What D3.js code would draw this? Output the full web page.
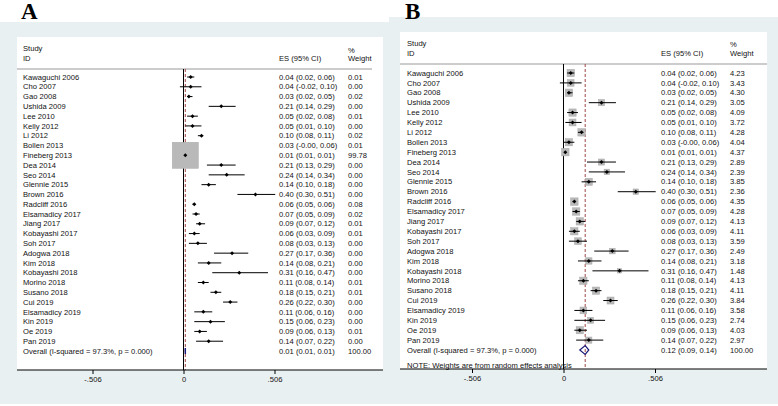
<!DOCTYPE html>
<html><head><meta charset="utf-8">
<script src="https://cdn.jsdelivr.net/npm/d3@7"></script>
<style>body{margin:0;background:#fff}svg{display:block}text{font-family:"Liberation Sans",Arial,sans-serif;fill:#111}</style>
</head><body>
<svg id="c" width="778" height="406"></svg>
<script>
const studies = ["Kawaguchi 2006","Cho 2007","Gao 2008","Ushida 2009","Lee 2010","Kelly 2012","Li 2012","Bollen 2013","Fineberg 2013","Dea 2014","Seo 2014","Glennie 2015","Brown 2016","Radcliff 2016","Elsamadicy 2017","Jiang 2017","Kobayashi 2017","Soh 2017","Adogwa 2018","Kim 2018","Kobayashi 2018","Morino 2018","Susano 2018","Cui 2019","Elsamadicy 2019","Kin 2019","Oe 2019","Pan 2019"];
const es = [0.04,0.04,0.03,0.21,0.05,0.05,0.10,0.03,0.01,0.21,0.24,0.14,0.40,0.06,0.07,0.09,0.06,0.08,0.27,0.14,0.31,0.11,0.18,0.26,0.11,0.15,0.09,0.14];
const lo = [0.02,-0.02,0.02,0.14,0.02,0.01,0.08,-0,0.01,0.13,0.14,0.10,0.30,0.05,0.05,0.07,0.03,0.03,0.17,0.08,0.16,0.08,0.15,0.22,0.06,0.06,0.06,0.07];
const hi = [0.06,0.10,0.05,0.29,0.08,0.10,0.11,0.06,0.01,0.29,0.34,0.18,0.51,0.06,0.09,0.12,0.09,0.13,0.36,0.21,0.47,0.14,0.21,0.30,0.16,0.23,0.13,0.22];
const weightsA = [0.01,0.00,0.02,0.00,0.01,0.00,0.02,0.01,99.78,0.00,0.00,0.00,0.00,0.08,0.02,0.01,0.01,0.00,0.00,0.00,0.00,0.01,0.01,0.00,0.00,0.00,0.01,0.00];
const weightsB = [4.23,3.43,4.30,3.05,4.09,3.72,4.28,4.04,4.37,2.89,2.39,3.85,2.36,4.35,4.28,4.13,4.11,3.59,2.49,3.18,1.48,4.13,4.11,3.84,3.58,2.74,4.03,2.97];
const overallA = [0.01, 0.01, 0.01];
const overallB = [0.12, 0.09, 0.14];
const overallLabel = "Overall  (I-squared = 97.3%, p = 0.000)";
const tickValues = [-0.506, 0, 0.506];
const tickLabels = ["-.506", "0", ".506"];

const fmt = v => ((v < 0 || Object.is(v, -0)) ? "-" : "") + Math.abs(v).toFixed(2);
const svg = d3.select("#c");
const BG = "#e9f0f2";

function panel(o) {
  const g = svg.append("g");
  g.append("rect").attr("x", o.bg[0]).attr("y", o.bg[1]).attr("width", o.bg[2]).attr("height", o.bg[3]).attr("fill", BG);
  g.append("rect").attr("x", o.wx0).attr("y", o.wy0).attr("width", o.wx1 - o.wx0).attr("height", o.axisY - o.wy0).attr("fill", "#fff");
  g.append("text").text(o.letter).attr("x", o.letterX).attr("y", 19)
    .style("font-family", "'Liberation Serif','Times New Roman',serif").style("font-weight", "bold").style("font-size", "23px").style("fill", "#000");

  const x = d3.scaleLinear().domain([-0.506, 0.506]).range(o.xr);
  const y = d3.scaleLinear().domain([0, 28]).range([o.row0, o.rowOverall]);
  const fs = "7.6px";
  const txt = (s, xx, yy, anchor) => g.append("text").text(s).attr("x", xx).attr("y", yy)
      .attr("dy", "0.35em").style("font-size", fs).attr("text-anchor", anchor || "start");

  // headers
  txt("Study", o.textX, o.hStudy);
  txt("ID", o.textX, o.hID);
  txt("ES (95% CI)", o.esX, o.hID);
  txt("%", o.wX, o.hPct);
  txt("Weight", o.wX, o.hID);
  g.append("line").attr("x1", o.wx0).attr("x2", o.hLineX1).attr("y1", o.hLine).attr("y2", o.hLine)
    .attr("stroke", "#999").attr("stroke-width", 1);

  // zero line and overall line
  g.append("line").attr("x1", x(0)).attr("x2", x(0)).attr("y1", o.hLine).attr("y2", o.axisY)
    .attr("stroke", "#000").attr("stroke-width", 1);
  g.append("line").attr("x1", x(o.overall[0])).attr("x2", x(o.overall[0])).attr("y1", o.hLine).attr("y2", o.axisY)
    .attr("stroke", "#a04848").attr("stroke-width", 1).attr("stroke-dasharray", "3,2");

  const w = o.weights;
  const side = d3.scaleSqrt().domain([0, d3.max(w)]).range([0, o.maxSide]);
  studies.forEach((s, i) => {
    const yy = y(i);
    txt(s, o.textX, yy);
    txt(fmt(es[i]) + " (" + fmt(lo[i]) + ", " + fmt(hi[i]) + ")", o.esX, yy);
    txt(w[i].toFixed(2), o.wX, yy);
    const sd = side(w[i]);
    if (sd > 0) g.append("rect").attr("x", x(es[i]) - sd / 2).attr("y", yy - sd / 2).attr("width", sd).attr("height", sd)
      .attr("fill", "#b9b9b9").attr("stroke", "#a8a8a8").attr("stroke-width", 0.5);
    g.append("line").attr("x1", x(lo[i])).attr("x2", x(hi[i])).attr("y1", yy).attr("y2", yy)
      .attr("stroke", "#000").attr("stroke-width", 1);
    const cx = x(es[i]);
    g.append("path").attr("d", `M${cx - 2},${yy}L${cx},${yy - 2}L${cx + 2},${yy}L${cx},${yy + 2}Z`).attr("fill", "#000");
  });

  // overall
  const yo = y(28);
  txt(overallLabel, o.textX, yo);
  txt(fmt(o.overall[0]) + " (" + fmt(o.overall[1]) + ", " + fmt(o.overall[2]) + ")", o.esX, yo);
  txt("100.00", o.wX, yo);
  const xl = x(o.overall[1]), xc = x(o.overall[0]), xh = x(o.overall[2]);
  if (xh - xl < 1) {
    g.append("line").attr("x1", xc).attr("x2", xc).attr("y1", yo - 3).attr("y2", yo + 3).attr("stroke", "#1b1b7a").attr("stroke-width", 1.5);
  } else {
    g.append("path").attr("d", `M${xl},${yo}L${xc},${yo - 4.5}L${xh},${yo}L${xc},${yo + 4.5}Z`)
      .attr("fill", "none").attr("stroke", "#1b1b7a").attr("stroke-width", 1.2);
  }
  if (o.note) txt(o.note, o.textX, o.noteY);

  // axis
  const ax = g.append("g").attr("transform", `translate(0,${o.axisY})`)
    .call(d3.axisBottom(x).tickValues(tickValues).tickFormat((d, i) => tickLabels[i]).tickSize(4).tickPadding(3));
  ax.select(".domain").remove();
  ax.selectAll("line").attr("stroke", "#000");
  ax.selectAll("text").style("font-size", fs).style("font-family", "'Liberation Sans',Arial,sans-serif").attr("fill", "#111");
  g.append("line").attr("x1", o.wx0).attr("x2", o.wx1).attr("y1", o.axisY).attr("y2", o.axisY).attr("stroke", "#000");
}

panel({letter: "A", letterX: 21, bg: [0, 22, 389, 382], wx0: 17, wx1: 383, wy0: 37, axisY: 370,
  xr: [92.5, 274.5], row0: 77, rowOverall: 351, textX: 23, esX: 279, wX: 348,
  hStudy: 48, hID: 58, hPct: 50, hLine: 69, hLineX1: 372, weights: weightsA, maxSide: 26, overall: overallA});
panel({letter: "B", letterX: 405, bg: [389, 17, 389, 387], wx0: 400, wx1: 767, wy0: 32, axisY: 369,
  xr: [472, 655], row0: 73, rowOverall: 350, textX: 407, esX: 661, wX: 730,
  hStudy: 43, hID: 53, hPct: 44, hLine: 64, hLineX1: 767, weights: weightsB, maxSide: 7.5, overall: overallB,
  note: "NOTE: Weights are from random effects analysis", noteY: 365});
</script>
</body></html>
